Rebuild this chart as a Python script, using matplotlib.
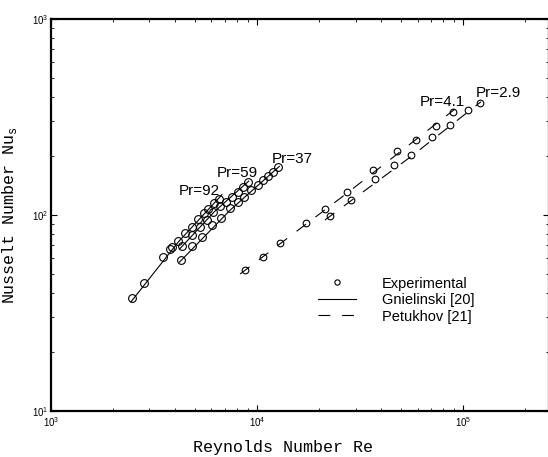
import numpy as np
import matplotlib.pyplot as plt
from matplotlib.ticker import LogLocator, FuncFormatter, NullFormatter

plt.rcParams['font.family'] = ['Liberation Sans', 'DejaVu Sans']
plt.rcParams['mathtext.fontset'] = 'custom'
plt.rcParams['mathtext.rm'] = 'Liberation Sans'
plt.rcParams['mathtext.tt'] = 'Liberation Mono'
plt.rcParams['lines.scale_dashes'] = False

# experimental points (Re, Nu)
re_92 = [2480, 2830, 3510, 3780, 3850, 4140, 4470, 4810, 5180, 5540, 5790, 6170, 6530]
nu_92 = [37.8, 44.8, 60.8, 67.2, 68.4, 74.0, 80.8, 87.2, 95.5, 102, 107, 115.6, 120.8]

re_59 = [4310, 4810, 5280, 5700, 6130, 6600, 7060, 7570, 8040, 8500, 8990]
nu_59 = [69.5, 79.1, 87.2, 94.2, 104, 111, 117, 124, 131, 139, 147]

re_37 = [4260, 4840, 5420, 6070, 6710, 7400, 8030, 8650, 9330, 10050, 10700, 11320, 11970, 12550]
nu_37 = [58.9, 69.5, 77.5, 88.9, 96.2, 108, 117, 124, 134, 142, 151, 158, 166, 175]

re_41 = [8730, 10710, 12900, 17250, 21340, 27200, 36600, 47500, 58900, 73600, 89100]
nu_41 = [52.4, 61.2, 71.8, 90.6, 107, 131.5, 169, 212, 241, 286, 337]

re_29 = [22570, 28400, 37300, 45900, 55800, 70200, 86100, 105000, 120600]
nu_29 = [98.9, 119.4, 153, 179, 202, 249, 288, 344, 371]

# correlation curves
gn_re_92 = [2440, 4150, 6750]
gn_nu_92 = [36.0, 73.0, 127.0]
gn_re_59 = [4200, 6200, 9100]
gn_nu_59 = [67.0, 104.0, 149.0]
gn_re_37 = [4200, 7400, 12800]
gn_nu_37 = [57.5, 106.0, 177.0]

pe_re_41 = [8260, 27200, 91000]
pe_nu_41 = [50.0, 129.0, 347.0]
pe_re_29 = [21300, 55800, 121600]
pe_nu_29 = [94.3, 199.0, 378.0]

pr_labels = ['Pr=92', 'Pr=59', 'Pr=37', 'Pr=4.1', 'Pr=2.9']
pr_pos = [(4180, 132), (6370, 164), (11750, 192), (61600, 379), (115000, 417)]

fig = plt.figure(figsize=(5.48, 4.57), dpi=100)
ax = fig.add_axes([51/548, 46/457, 498/548, 392/457])

dash = (0, (8.5, 8.5))
for r, n in [(gn_re_92, gn_nu_92), (gn_re_59, gn_nu_59), (gn_re_37, gn_nu_37)]:
    ax.plot(r, n, color='k', lw=0.8)
for r, n in [(pe_re_41, pe_nu_41), (pe_re_29, pe_nu_29)]:
    ax.plot(r, n, color='k', lw=0.8, ls=dash)

for r, n in [(re_92, nu_92), (re_59, nu_59), (re_37, nu_37)]:
    ax.plot(r, n, 'o', ms=5.6, mfc='none', mec='k', mew=0.8)
for r, n in [(re_41, nu_41), (re_29, nu_29)]:
    ax.plot(r, n, 'o', ms=4.8, mfc='none', mec='k', mew=0.8)

for lab, (x, y) in zip(pr_labels, pr_pos):
    ax.text(x, y, lab, fontsize=11, ha='left', va='center')

# legend handles
h1, = ax.plot([], [], 'o', ms=3.8, mfc='none', mec='k', mew=0.8)
h2, = ax.plot([], [], color='k', lw=0.8)
h3, = ax.plot([], [], color='k', lw=0.8, ls=dash)
ax.legend([h1, h2, h3], ['Experimental', 'Gnielinski [20]', 'Petukhov [21]'],
          loc='center left', bbox_to_anchor=(0.536, 0.283), frameon=False,
          fontsize=10.5, handlelength=2.6, handletextpad=1.8, labelspacing=0.17,
          borderpad=0, borderaxespad=0)

ax.set_xscale('log')
ax.set_yscale('log')
ax.set_xlim(1e3, 10 ** (3 + 498 / 206.2))
ax.set_ylim(10, 1000)

ax.xaxis.set_major_locator(LogLocator(base=10, numticks=10))
ax.yaxis.set_major_locator(LogLocator(base=10, numticks=10))
ax.xaxis.set_minor_locator(LogLocator(base=10, subs=np.arange(2, 10), numticks=10))
ax.yaxis.set_minor_locator(LogLocator(base=10, subs=np.arange(2, 10), numticks=10))
fmt = FuncFormatter(lambda v, p: r'$10^{%d}$' % round(np.log10(v)))
ax.xaxis.set_major_formatter(fmt)
ax.yaxis.set_major_formatter(fmt)
ax.xaxis.set_minor_formatter(NullFormatter())
ax.yaxis.set_minor_formatter(NullFormatter())

ax.tick_params(which='both', direction='in', top=True, right=True, labelsize=7, pad=2)
ax.tick_params(axis='x', pad=3)
ax.tick_params(which='major', length=4, width=0.8)
ax.tick_params(which='minor', length=2.5, width=0.6)
for s in ax.spines.values():
    s.set_linewidth(1.6)

ax.set_xlabel('Reynolds Number Re', family='Liberation Mono', fontsize=12)
ax.xaxis.set_label_coords(0.466, -0.074)
ax.set_ylabel(r'Nusselt Number Nu$_\mathtt{s}$', family='Liberation Mono', fontsize=12, labelpad=9)

fig.savefig('out.png', dpi=100)
